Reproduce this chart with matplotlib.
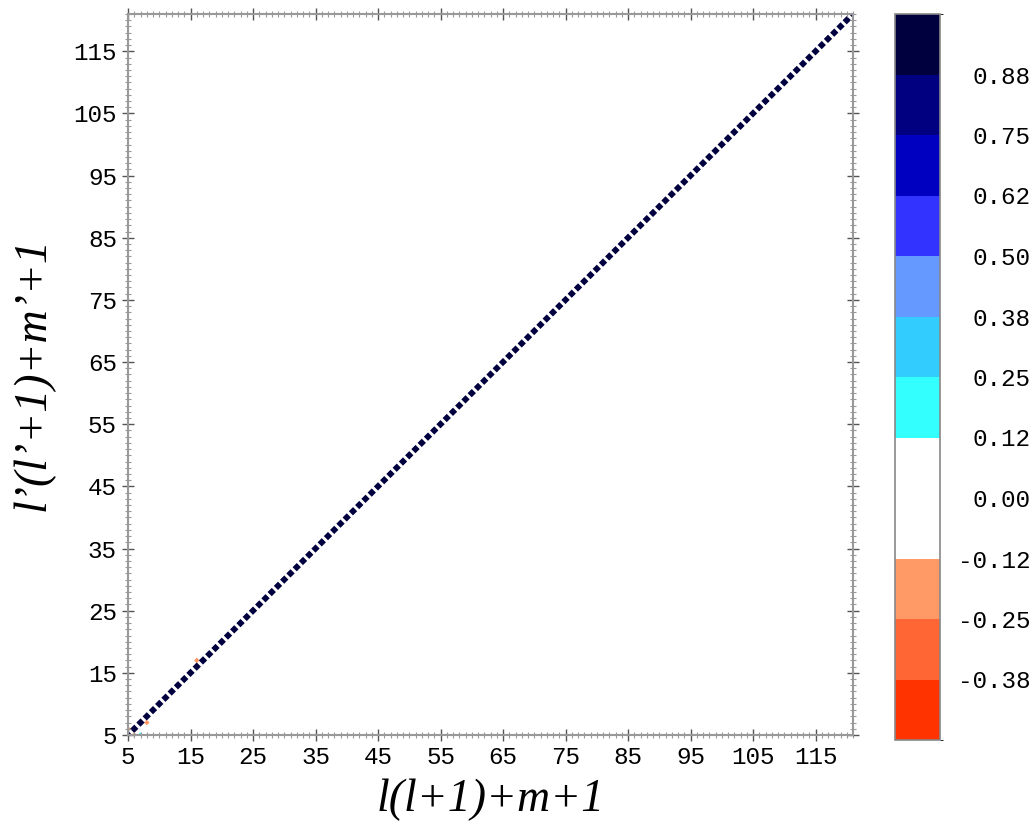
import numpy as np
import matplotlib
matplotlib.use("Agg")
import matplotlib.pyplot as plt
from matplotlib.colors import ListedColormap, BoundaryNorm

# ---- data ----
index_values = list(range(5, 122))              # l(l+1)+m+1 for l = 2..10
diag_values = [1.0] * len(index_values)          # self-correlation on the diagonal
# a few weak off-diagonal correlations visible in the picture: (row, col, value)
off_rows = [6, 5, 7, 17, 5]
off_cols = [5, 7, 8, 16, 6]
off_vals = [-0.20, 0.15, -0.18, -0.20, -0.15]

levels = [-0.5, -0.375, -0.25, -0.125, 0.0, 0.125, 0.25, 0.375, 0.5, 0.625, 0.75, 0.875, 1.0]
level_colors = ["#ff3300", "#ff6633", "#ff9966", "#ffffff", "#ffffff", "#33ffff",
                "#33ccff", "#6699ff", "#3333ff", "#0000c0", "#000080", "#00003f"]
xticks = [5, 15, 25, 35, 45, 55, 65, 75, 85, 95, 105, 115]
cbar_ticks = [-0.375, -0.25, -0.125, 0.0, 0.125, 0.25, 0.375, 0.5, 0.625, 0.75, 0.875]

# ---- build matrix ----
idx = np.array(index_values)
n = len(idx)
M = np.zeros((n, n))
M[np.arange(n), np.arange(n)] = diag_values
for r, c, v in zip(off_rows, off_cols, off_vals):
    M[r - idx[0], c - idx[0]] = v

X, Y = np.meshgrid(idx, idx)

fig = plt.figure(figsize=(10.35, 8.25), dpi=100)
ax = fig.add_axes([128 / 1035, 1 - 735 / 825, 725 / 1035, 721 / 825])
cax = fig.add_axes([895 / 1035, 1 - 740 / 825, 45 / 1035, 726 / 825])

cmap = ListedColormap(level_colors)
norm = BoundaryNorm(levels, cmap.N)
vals = M.ravel()
order = np.argsort(np.abs(vals))
sizes = np.where(np.abs(vals[order]) > 0.5, 18, 8)
sc = ax.scatter(X.ravel()[order], Y.ravel()[order], c=vals[order], cmap=cmap, norm=norm,
                marker="D", s=sizes, linewidths=0)

ax.set_xlim(5, 121)
ax.set_ylim(5, 121)
ax.set_xticks(xticks)
ax.set_yticks(xticks)
ax.set_xticks(np.arange(5, 122, 1), minor=True)
ax.set_yticks(np.arange(5, 122, 1), minor=True)
mono = "Liberation Mono"
for lab in ax.get_xticklabels() + ax.get_yticklabels():
    lab.set_family(mono)
    lab.set_fontsize(17.5)
ax.tick_params(which="major", direction="inout", length=8, width=1, color="#555555", pad=4)
ax.tick_params(which="minor", direction="inout", length=5, width=0.8, color="#999999")
ax.tick_params(top=True, right=True, which="both")
ax.tick_params(labeltop=False, labelright=False)
for s in ax.spines.values():
    s.set_color("#999999")
    s.set_linewidth(1.5)

ax.set_xlabel("l(l+1)+m+1", family="Liberation Serif", style="italic", fontsize=33)
ax.set_ylabel("l\u2019(l\u2019+1)+m\u2019+1", family="Liberation Serif", style="italic", fontsize=33)
ax.xaxis.set_label_coords(0.5, -(800 - 735) / 721)
ax.yaxis.set_label_coords(-(128 - 33) / 725, 0.5)
ax.xaxis.label.set_va("center")
ax.yaxis.label.set_va("center")

cb = fig.colorbar(sc, cax=cax, ticks=cbar_ticks, boundaries=levels)
cb.ax.set_yticklabels(["%.2f" % t for t in cbar_ticks])
for lab in cb.ax.get_yticklabels():
    lab.set_family(mono)
    lab.set_fontsize(17.5)
    lab.set_ha("right")
cb.ax.tick_params(length=0, pad=(1030 - 940) * 0.72)
cb.outline.set_edgecolor("#888888")
cb.outline.set_linewidth(1.2)

fig.savefig("out.png", dpi=100)
